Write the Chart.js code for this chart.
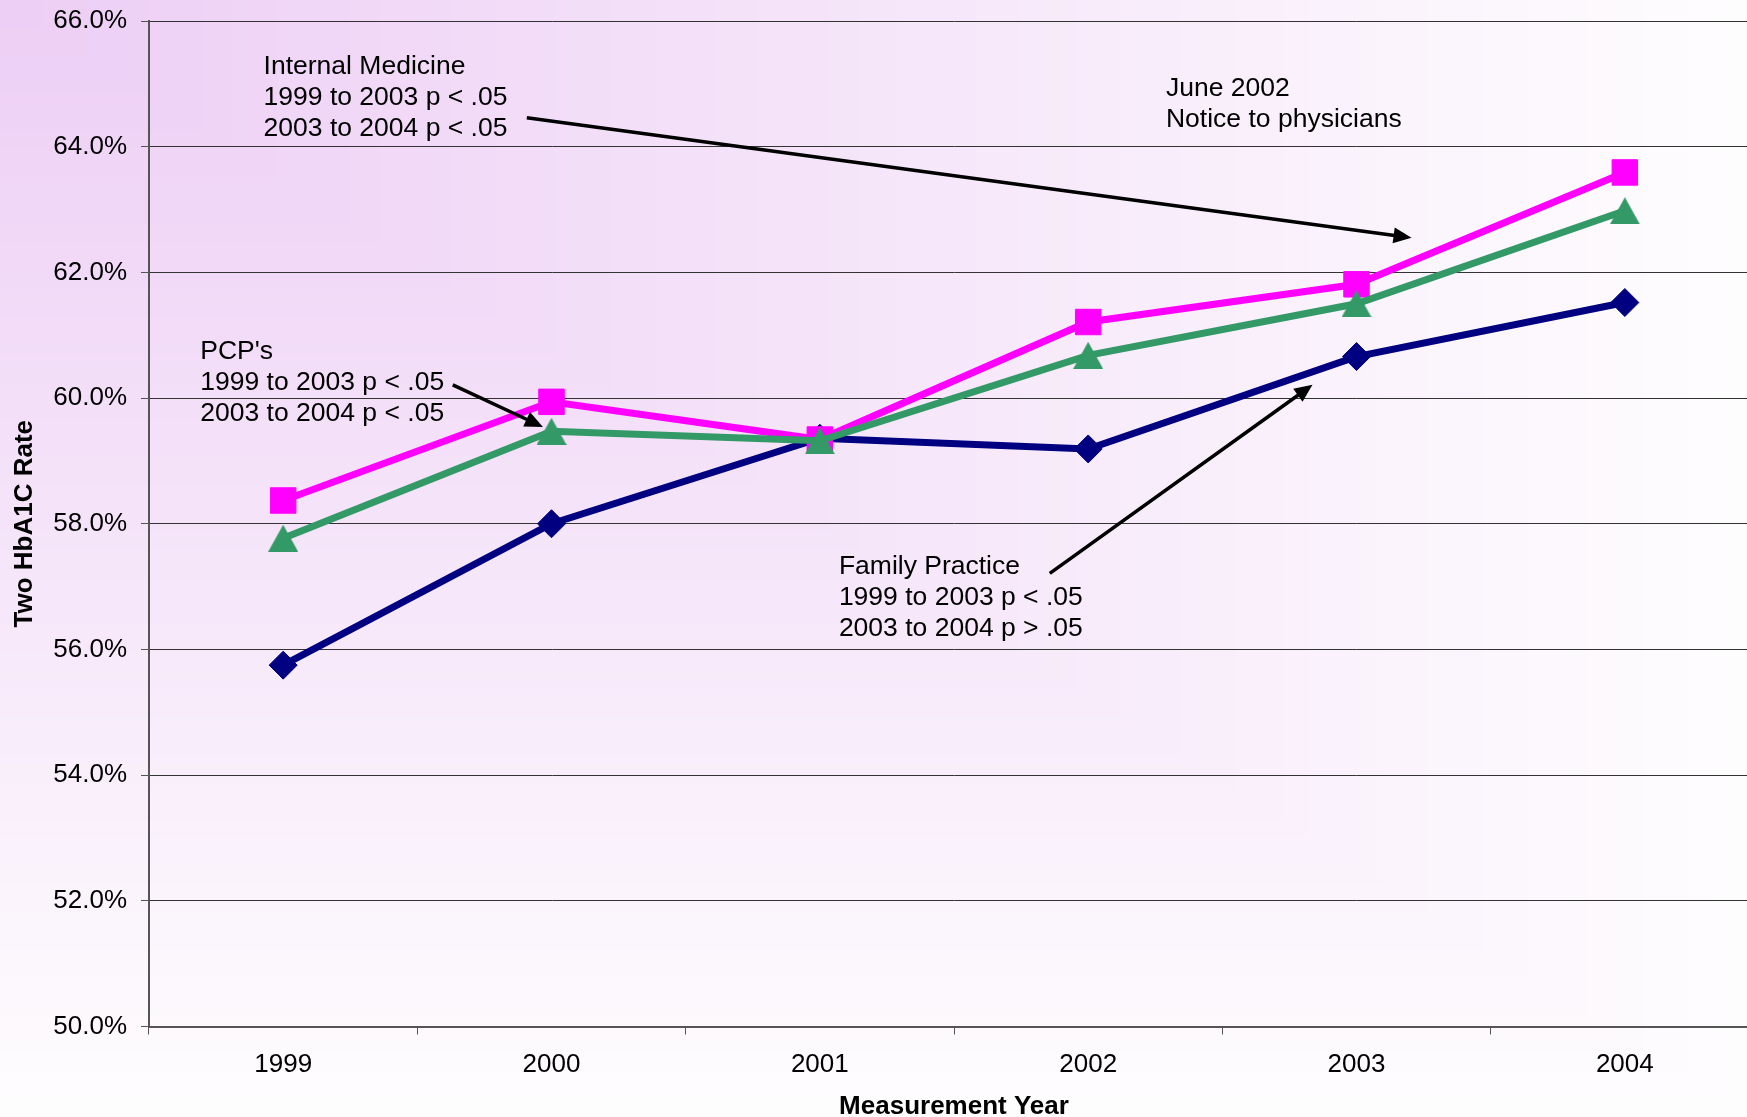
<!DOCTYPE html>
<html>
<head>
<meta charset="utf-8">
<title>Two HbA1C Rate by Measurement Year</title>
<script src="https://cdn.jsdelivr.net/npm/chart.js@4.4.1/dist/chart.umd.min.js"></script>
<style>
  html, body { margin: 0; padding: 0; overflow: hidden; background: #fefdfe; }
  #wrap { width: 1747px; height: 1117px; overflow: hidden; }
</style>
</head>
<body>
<div id="wrap"><canvas id="rateChart" width="1760" height="1117"></canvas></div>
<script>
const years = ['1999', '2000', '2001', '2002', '2003', '2004'];
const familyPractice = [55.75, 58.00, 59.36, 59.19, 60.66, 61.52];
const internalMedicine = [58.37, 59.94, 59.34, 61.21, 61.81, 63.59];
const pcps = [57.77, 59.47, 59.32, 60.68, 61.50, 62.98];
const rateTicks = [50, 52, 54, 56, 58, 60, 62, 64, 66];

// callouts: anchor is [year index, rate]
const notes = [
    { at: [-0.073, 65.28], lines: ['Internal Medicine', '1999 to 2003 p < .05', '2003 to 2004 p < .05'] },
    { at: [3.29, 64.93], lines: ['June 2002', 'Notice to physicians'] },
    { at: [-0.309, 60.73], lines: ["PCP's", '1999 to 2003 p < .05', '2003 to 2004 p < .05'] },
    { at: [2.071, 57.32], lines: ['Family Practice', '1999 to 2003 p < .05', '2003 to 2004 p > .05'] }
];
const arrows = [
    { from: [0.908, 64.46], to: [4.205, 62.55] },
    { from: [0.632, 60.21], to: [0.968, 59.54] },
    { from: [2.857, 57.21], to: [3.836, 60.21] }
];

const FONT = '"Liberation Sans", Arial, sans-serif';

function triangleMarker(w, h, color) {
    const c = document.createElement('canvas');
    c.width = w;
    c.height = h;
    const g = c.getContext('2d');
    g.fillStyle = color;
    g.beginPath();
    g.moveTo(w / 2, 0);
    g.lineTo(w, h);
    g.lineTo(0, h);
    g.closePath();
    g.fill();
    return c;
}

// corner gradient, lavender at top left fading out toward the far edges
const cornerFill = {
    id: 'cornerFill',
    beforeDraw(chart) {
        const ctx = chart.ctx;
        const W = 1747, H = chart.height, steps = 120;
        const from = [237, 206, 245], to = [254, 253, 254];
        ctx.save();
        ctx.fillStyle = `rgb(${to.join(',')})`;
        ctx.fillRect(0, 0, chart.width, H);
        for (let i = steps; i > 0; i--) {
            const t = i / steps;
            const c = from.map((v, k) => Math.round(v + (to[k] - v) * t));
            ctx.fillStyle = `rgb(${c.join(',')})`;
            ctx.fillRect(0, 0, W * t, H * t);
        }
        ctx.restore();
    }
};

const notesPlugin = {
    id: 'notes',
    afterDatasetsDraw(chart) {
        const { ctx, scales: { x, y } } = chart;
        ctx.save();
        ctx.font = `26.5px ${FONT}`;
        ctx.fillStyle = '#000';
        ctx.strokeStyle = '#000';
        ctx.textAlign = 'left';
        ctx.textBaseline = 'middle';
        notes.forEach((n) => {
            const px = x.getPixelForValue(n.at[0]);
            const py = y.getPixelForValue(n.at[1]);
            n.lines.forEach((t, i) => ctx.fillText(t, px, py + i * 31));
        });
        arrows.forEach((a) => {
            const x0 = x.getPixelForValue(a.from[0]), y0 = y.getPixelForValue(a.from[1]);
            const x1 = x.getPixelForValue(a.to[0]), y1 = y.getPixelForValue(a.to[1]);
            const ang = Math.atan2(y1 - y0, x1 - x0);
            const cos = Math.cos(ang), sin = Math.sin(ang);
            const head = 18, half = 8;
            const bx = x1 - head * cos, by = y1 - head * sin;
            ctx.lineWidth = 3.5;
            ctx.beginPath();
            ctx.moveTo(x0, y0);
            ctx.lineTo(bx + cos, by + sin);
            ctx.stroke();
            ctx.beginPath();
            ctx.moveTo(x1, y1);
            ctx.lineTo(bx - half * sin, by + half * cos);
            ctx.lineTo(bx + half * sin, by - half * cos);
            ctx.closePath();
            ctx.fill();
        });
        ctx.restore();
    }
};

const ctx = document.getElementById('rateChart');
let chart = new Chart(ctx, {
    type: 'line',
    data: {
        labels: years,
        datasets: [{
            label: 'Family Practice',
            data: familyPractice,
            borderColor: '#000080',
            backgroundColor: '#000080',
            borderWidth: 7,
            pointStyle: 'rectRot',
            pointRadius: 14,
            pointBorderWidth: 1,
            order: 3
        }, {
            label: 'Internal Medicine',
            data: internalMedicine,
            borderColor: '#ff00ff',
            backgroundColor: '#ff00ff',
            borderWidth: 7,
            pointStyle: 'rect',
            pointRadius: 18,
            pointBorderWidth: 1,
            order: 2
        }, {
            label: "PCP's",
            data: pcps,
            borderColor: '#339966',
            backgroundColor: '#339966',
            borderWidth: 7,
            pointStyle: triangleMarker(30, 27, '#339966'),
            pointRadius: 15,
            order: 1
        }]
    },
    options: {
        responsive: false,
        animation: false,
        events: [],
        layout: { autoPadding: false, padding: { top: 21, right: 1, bottom: 0, left: 0 } },
        plugins: {
            legend: { display: false },
            tooltip: { enabled: false }
        },
        scales: {
            x: {
                offset: true,
                grid: { offset: true, drawOnChartArea: false, tickLength: 8, color: '#555', lineWidth: 1 },
                border: { color: '#555', width: 2 },
                ticks: { color: '#000', font: { family: FONT, size: 26 }, padding: 15, maxRotation: 0 },
                title: {
                    display: true,
                    text: 'Measurement Year',
                    color: '#000',
                    font: { family: FONT, size: 26, weight: 'bold' },
                    padding: { top: 0, bottom: -5 }
                },
                afterFit(scale) {
                    scale.height = 90.5;
                    scale.paddingLeft = 0;
                    scale.paddingRight = 0;
                }
            },
            y: {
                min: 50,
                max: 66,
                afterBuildTicks(scale) { scale.ticks = rateTicks.map((v) => ({ value: v })); },
                grid: { color: '#333', lineWidth: 1, tickLength: 8, tickColor: '#555' },
                border: { color: '#555', width: 2 },
                ticks: {
                    color: '#000',
                    font: { family: FONT, size: 26 },
                    padding: 14,
                    callback: (v) => Number(v).toFixed(1) + '%'
                },
                title: {
                    display: true,
                    text: 'Two HbA1C Rate',
                    color: '#000',
                    font: { family: FONT, size: 26, weight: 'bold' },
                    padding: { top: 9, bottom: 0 }
                },
                afterFit(scale) {
                    scale.width = 149;
                    scale.paddingTop = 0;
                    scale.paddingBottom = 0;
                }
            }
        }
    },
    plugins: [cornerFill, notesPlugin]
});
</script>
</body>
</html>
